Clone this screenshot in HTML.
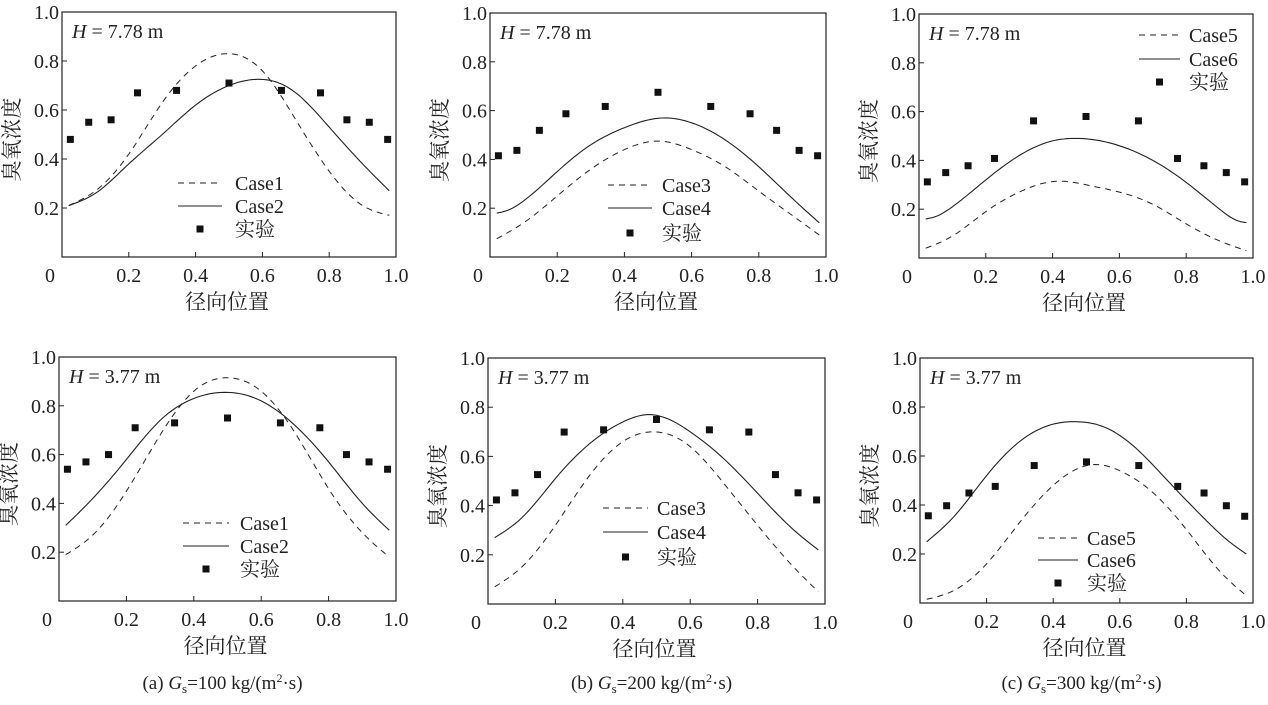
<!DOCTYPE html>
<html><head><meta charset="utf-8">
<style>
html,body{margin:0;padding:0;background:#fff;}
svg, svg text, svg tspan{font-family:"Liberation Serif","Noto Serif CJK SC",serif;}
</style></head>
<body>
<svg id="chart" width="1268" height="700" viewBox="0 0 1268 700" xmlns="http://www.w3.org/2000/svg"></svg>
<script>
// ---- data ----
const expX = [0.025,0.08,0.147,0.226,0.343,0.5,0.657,0.774,0.853,0.92,0.975];
const p1Exp = [0.48,0.55,0.56,0.67,0.68,0.71,0.68,0.67,0.56,0.55,0.48];
const p1AX = [0.02,0.1,0.2,0.3,0.4,0.5,0.6,0.7,0.8,0.9,0.98];
const p1A  = [0.21,0.27,0.42,0.63,0.78,0.83,0.76,0.56,0.35,0.21,0.17];
const p1BX = [0.02,0.1,0.2,0.3,0.4,0.5,0.58,0.65,0.7,0.8,0.9,0.98];
const p1B  = [0.21,0.26,0.38,0.50,0.62,0.70,0.725,0.71,0.67,0.53,0.38,0.27];

const p2Exp = [0.415,0.437,0.519,0.587,0.617,0.675,0.617,0.587,0.519,0.437,0.415];
const p2AX = [0.02,0.1,0.2,0.3,0.4,0.5,0.6,0.7,0.8,0.9,0.98];
const p2A  = [0.075,0.14,0.25,0.36,0.44,0.475,0.44,0.37,0.27,0.17,0.09];
const p2BX = [0.02,0.05,0.1,0.2,0.3,0.4,0.52,0.6,0.7,0.8,0.9,0.98];
const p2B  = [0.18,0.19,0.23,0.35,0.46,0.53,0.57,0.55,0.48,0.37,0.24,0.14];

const p3Exp = [0.312,0.35,0.378,0.408,0.562,0.58,0.562,0.408,0.378,0.35,0.312];
const p3AX = [0.02,0.1,0.2,0.3,0.42,0.5,0.6,0.7,0.8,0.9,0.98];
const p3A  = [0.04,0.09,0.19,0.27,0.315,0.30,0.27,0.22,0.14,0.07,0.03];
const p3BX = [0.02,0.05,0.1,0.2,0.3,0.4,0.48,0.6,0.7,0.8,0.9,0.96,0.98];
const p3B  = [0.16,0.17,0.21,0.32,0.42,0.48,0.49,0.46,0.40,0.31,0.20,0.15,0.145];

const p4Exp = [0.54,0.57,0.60,0.71,0.73,0.75,0.73,0.71,0.60,0.57,0.54];
const p4AX = [0.02,0.1,0.2,0.3,0.4,0.5,0.6,0.7,0.8,0.9,0.98];
const p4A  = [0.19,0.27,0.45,0.68,0.86,0.915,0.86,0.69,0.46,0.28,0.18];
const p4BX = [0.02,0.1,0.2,0.3,0.4,0.5,0.6,0.7,0.8,0.9,0.98];
const p4B  = [0.31,0.42,0.58,0.74,0.83,0.855,0.82,0.72,0.57,0.40,0.29];

const p5Exp = [0.423,0.452,0.526,0.699,0.708,0.75,0.708,0.699,0.526,0.452,0.423];
const p5AX = [0.02,0.1,0.2,0.3,0.4,0.49,0.6,0.7,0.8,0.9,0.98];
const p5A  = [0.07,0.15,0.32,0.52,0.66,0.70,0.64,0.49,0.32,0.16,0.05];
const p5BX = [0.02,0.1,0.2,0.3,0.4,0.48,0.6,0.7,0.8,0.9,0.98];
const p5B  = [0.27,0.35,0.51,0.65,0.74,0.77,0.70,0.59,0.45,0.31,0.22];

const p6Exp = [0.356,0.397,0.449,0.476,0.561,0.576,0.561,0.476,0.449,0.397,0.354];
const p6AX = [0.02,0.1,0.2,0.3,0.4,0.52,0.6,0.7,0.8,0.9,0.98];
const p6A  = [0.015,0.05,0.16,0.33,0.48,0.565,0.54,0.45,0.30,0.13,0.03];
const p6BX = [0.02,0.1,0.2,0.3,0.4,0.47,0.55,0.65,0.75,0.85,0.92,0.98];
const p6B  = [0.25,0.35,0.52,0.66,0.73,0.74,0.72,0.63,0.49,0.35,0.26,0.20];

const xTicks = ["0","0.2","0.4","0.6","0.8","1.0"];
const yTicks = ["0.2","0.4","0.6","0.8","1.0"];
const captions = ["(a) ","(b) ","(c) "];
const gsVals = ["100","200","300"];

const NS = "http://www.w3.org/2000/svg";
const FONT = "Liberation Serif, Noto Serif CJK SC, serif";
const svg = document.getElementById('chart');
function mk(tag, attrs, parent){
  const e = document.createElementNS(NS, tag);
  for (const k in attrs) e.setAttribute(k, attrs[k]);
  if (tag==='text') e.setAttribute('font-family', FONT);
  (parent||svg).appendChild(e);
  return e;
}
// natural cubic spline in x, sampled densely
function splinePath(xs, ys, sx, sy){
  const n = xs.length, h=[], a=[], l=[1], mu=[0], z=[0], c=new Array(n).fill(0), b=[], d=[];
  for (let i=0;i<n-1;i++) h.push(xs[i+1]-xs[i]);
  for (let i=1;i<n-1;i++) a[i]=3/h[i]*(ys[i+1]-ys[i])-3/h[i-1]*(ys[i]-ys[i-1]);
  for (let i=1;i<n-1;i++){ l[i]=2*(xs[i+1]-xs[i-1])-h[i-1]*mu[i-1]; mu[i]=h[i]/l[i]; z[i]=(a[i]-h[i-1]*z[i-1])/l[i]; }
  for (let j=n-2;j>=0;j--){ c[j]=(j<n-1&&j>0? z[j]-mu[j]*c[j+1] : (j==0?0:c[j])); b[j]=(ys[j+1]-ys[j])/h[j]-h[j]*(c[j+1]+2*c[j])/3; d[j]=(c[j+1]-c[j])/(3*h[j]); }
  let dstr="";
  for (let j=0;j<n-1;j++){
    for (let k=0;k<=12;k++){
      if (j>0 && k==0) continue;
      const t=h[j]*k/12, x=xs[j]+t, y=ys[j]+b[j]*t+c[j]*t*t+d[j]*t*t*t;
      dstr += (dstr?" L":"M")+sx(x).toFixed(1)+","+sy(y).toFixed(1);
    }
  }
  return dstr;
}

const panels = [
 {L:62,R:396,T:12,B:257,H:"7.78",exp:p1Exp,ax:p1AX,a:p1A,bx:p1BX,b:p1B,c1:"Case1",c2:"Case2",lg:[178,222,235,183,206,229]},
 {L:490,R:826,T:13,B:257,H:"7.78",exp:p2Exp,ax:p2AX,a:p2A,bx:p2BX,b:p2B,c1:"Case3",c2:"Case4",lg:[608,652,662,185,208,233]},
 {L:919,R:1253,T:14,B:258,H:"7.78",exp:p3Exp,ax:p3AX,a:p3A,bx:p3BX,b:p3B,c1:"Case5",c2:"Case6",lg:[1139,1180,1189,35,59,82]},
 {L:59,R:396,T:357,B:601,H:"3.77",exp:p4Exp,ax:p4AX,a:p4A,bx:p4BX,b:p4B,c1:"Case1",c2:"Case2",lg:[183,229,240,523,546,569],cap:0},
 {L:488,R:825,T:358,B:604,H:"3.77",exp:p5Exp,ax:p5AX,a:p5A,bx:p5BX,b:p5B,c1:"Case3",c2:"Case4",lg:[603,648,657,508,532,557],cap:1},
 {L:920,R:1253,T:358,B:603,H:"3.77",exp:p6Exp,ax:p6AX,a:p6A,bx:p6BX,b:p6B,c1:"Case5",c2:"Case6",lg:[1038,1078,1087,538,560,583],cap:2}
];

panels.forEach((p,pi)=>{
  const g = mk('g',{});
  
  
  const sx = v => p.L + v*(p.R-p.L);
  const sy = v => p.B - v*(p.B-p.T);
  const box = mk('rect',{x:p.L,y:p.T,width:p.R-p.L,height:p.B-p.T,fill:'none',stroke:'#222','stroke-width':1.2},g);
  
  
  xTicks.forEach((t,i)=>{
    const v = parseFloat(t), x = sx(v);
    if (i>0 && i<xTicks.length-1) mk('line',{x1:x,y1:p.B,x2:x,y2:p.B-5,stroke:'#222','stroke-width':1},g);
    const tx = mk('text',{x:(i==0?p.L-12:x),y:p.B+25,'font-size':20,'text-anchor':'middle',fill:'#222'},g);
    tx.textContent = t;
    
    
  });
  yTicks.forEach((t)=>{
    const v = parseFloat(t), y = sy(v);
    if (v<1) mk('line',{x1:p.L,y1:y,x2:p.L+5,y2:y,stroke:'#222','stroke-width':1},g);
    const ty = mk('text',{x:p.L-3,y:y+7,'font-size':20,'text-anchor':'end',fill:'#222'},g);
    ty.textContent = t;
    
    
  });
  const xt = mk('text',{x:(p.L+p.R)/2-2,y:p.B+52,'font-size':21,'text-anchor':'middle',fill:'#222'},g);
  xt.textContent = "径向位置";
  
  
  const cy = (p.T+p.B)/2+5;
  const yt = mk('text',{x:p.L-43,y:cy,'font-size':21,'text-anchor':'middle',fill:'#222',transform:'rotate(-90 '+(p.L-43)+' '+cy+')'},g);
  yt.textContent = "臭氧浓度";
  
  
  const hl = mk('text',{x:p.L+10,y:p.T+26,'font-size':20,fill:'#222'},g);
  hl.innerHTML = '<tspan font-style="italic">H</tspan> = '+p.H+' m';
  
  
  const ca = mk('path',{d:splinePath(p.ax,p.a,sx,sy),fill:'none',stroke:'#222','stroke-width':1,'stroke-dasharray':'6,5'},g);
  
  
  const cb = mk('path',{d:splinePath(p.bx,p.b,sx,sy),fill:'none',stroke:'#222','stroke-width':1.1},g);
  
  
  p.exp.forEach((v,i)=>{
    const m = mk('rect',{x:sx(expX[i])-3.5,y:sy(v)-3.5,width:7,height:7,fill:'#111'},g);
    
    
  });
  const lg = p.lg;
  const leg = mk('g',{},g);
  
  
  mk('line',{x1:lg[0],y1:lg[3],x2:lg[1],y2:lg[3],stroke:'#222','stroke-width':1,'stroke-dasharray':'6,5'},leg);
  mk('line',{x1:lg[0],y1:lg[4],x2:lg[1],y2:lg[4],stroke:'#222','stroke-width':1.1},leg);
  mk('rect',{x:(lg[0]+lg[1])/2-3.5,y:lg[5]-3.5,width:7,height:7,fill:'#111'},leg);
  [p.c1,p.c2,"实验"].forEach((t,i)=>{
    const e = mk('text',{x:lg[2],y:lg[3+i]+7,'font-size':20,fill:'#222'},leg);
    e.textContent = t;
    
    
  });
  if (p.cap!==undefined){
    const c = mk('text',{x:(p.L+p.R)/2-5,y:689,'font-size':19,'text-anchor':'middle',fill:'#222'},g);
    c.innerHTML = captions[p.cap]+'<tspan font-style="italic">G</tspan><tspan font-size="13" dy="4">s</tspan><tspan dy="-4">='+gsVals[p.cap]+' kg/(m</tspan><tspan font-size="12" dy="-7">2</tspan><tspan dy="7">·s)</tspan>';
    
    
  }
});
</script>
</body></html>
